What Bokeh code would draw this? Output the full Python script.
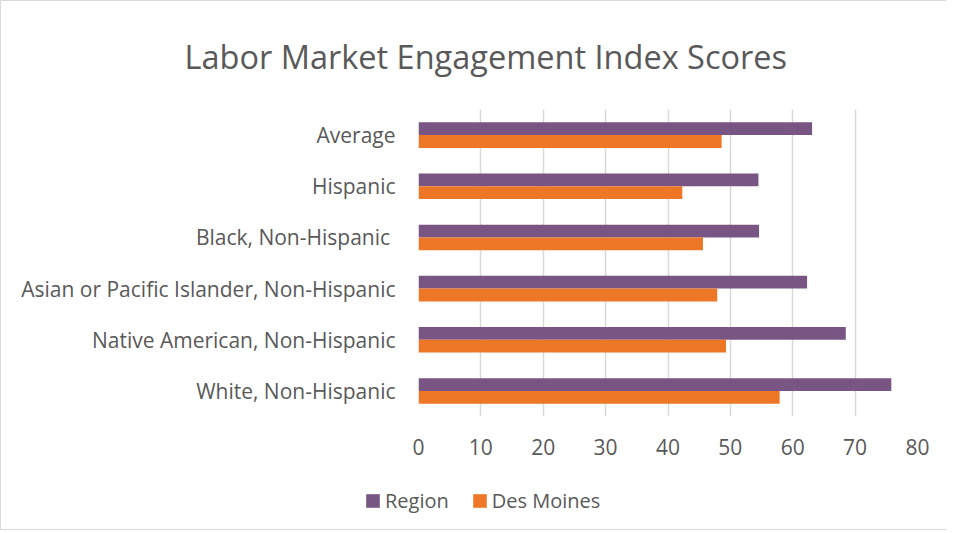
from bokeh.plotting import figure
from bokeh.models import ColumnDataSource, FactorRange, Legend, LegendItem, FixedTicker, Title
from bokeh.layouts import column, row
from bokeh.transform import dodge
from bokeh.embed import file_html
from bokeh.resources import INLINE

categories = ["White, Non-Hispanic", "Native American, Non-Hispanic",
              "Asian or Pacific Islander, Non-Hispanic", "Black, Non-Hispanic ",
              "Hispanic", "Average"]
region = [75.8, 68.5, 62.3, 54.6, 54.5, 63.1]
des_moines = [57.9, 49.3, 47.9, 45.6, 42.3, 48.6]
x_ticks = [0, 10, 20, 30, 40, 50, 60, 70, 80]
title_text = "Labor Market Engagement Index Scores"
series_names = ["Region", "Des Moines"]

FONT = "Open Sans"
TXT = "#595959"
C_REGION = "#785583"
C_DM = "#ED7727"

src = ColumnDataSource(dict(cat=categories, region=region, dm=des_moines))

p = figure(width=945, height=470, output_backend="svg", toolbar_location=None,
           y_range=FactorRange(*categories, range_padding=0), x_range=(0, 80),
           min_border_left=417, min_border_right=29, min_border_top=107, min_border_bottom=55)
p.outline_line_color = None

p.hbar(y=dodge("cat", 0.125, range=p.y_range), right="region", left=0, height=0.25,
       source=src, fill_color=C_REGION, line_color=None)
p.hbar(y=dodge("cat", -0.125, range=p.y_range), right="dm", left=0, height=0.25,
       source=src, fill_color=C_DM, line_color=None)

p.xaxis.ticker = FixedTicker(ticks=x_ticks)
p.xaxis.axis_line_color = None
p.xaxis.major_tick_line_color = None
p.xaxis.minor_tick_line_color = None
p.xaxis.major_label_text_font = FONT
p.xaxis.major_label_text_font_size = "21px"
p.xaxis.major_label_text_color = TXT
p.xaxis.major_label_standoff = 16

p.yaxis.axis_line_color = None
p.yaxis.major_tick_line_color = None
p.yaxis.major_label_text_font = FONT
p.yaxis.major_label_text_font_size = "21px"
p.yaxis.major_label_text_color = TXT
p.yaxis.major_label_standoff = 17

p.ygrid.grid_line_color = None
p.xgrid.grid_line_color = "#d9d9d9"
p.xgrid.grid_line_width = 1.5

t = Title(text=title_text, align="left", offset=-234, standoff=61,
          text_font=FONT, text_font_size="32.5px", text_font_style="normal", text_color=TXT)
p.add_layout(t, "above")

# legend strip
lg = figure(width=945, height=58, output_backend="svg", toolbar_location=None,
            x_range=(0, 1), y_range=(0, 1),
            min_border_left=0, min_border_right=0, min_border_top=0, min_border_bottom=0)
lg.outline_line_color = None
lg.axis.visible = False
lg.grid.grid_line_color = None
d1 = lg.quad(left=[5], right=[6], bottom=[5], top=[6], fill_color=C_REGION, line_color=None)
d2 = lg.quad(left=[5], right=[6], bottom=[5], top=[6], fill_color=C_DM, line_color=None)
legend = Legend(items=[LegendItem(label=series_names[0], renderers=[d1]),
                       LegendItem(label=series_names[1], renderers=[d2])],
                orientation="horizontal", location=(363, 15),
                label_text_font=FONT, label_text_font_size="20px", label_text_color=TXT,
                glyph_width=17, glyph_height=17, spacing=22, label_standoff=4,
                padding=4, margin=0,
                background_fill_alpha=0, border_line_color=None)
lg.add_layout(legend, "center")

layout = column(p, row(lg), spacing=0)
layout.styles = {"border-top": "1px solid #d9d9d9", "border-left": "1px solid #d9d9d9",
                 "border-bottom": "1px solid #d9d9d9"}

open("out.html", "w").write(file_html(layout, INLINE))
